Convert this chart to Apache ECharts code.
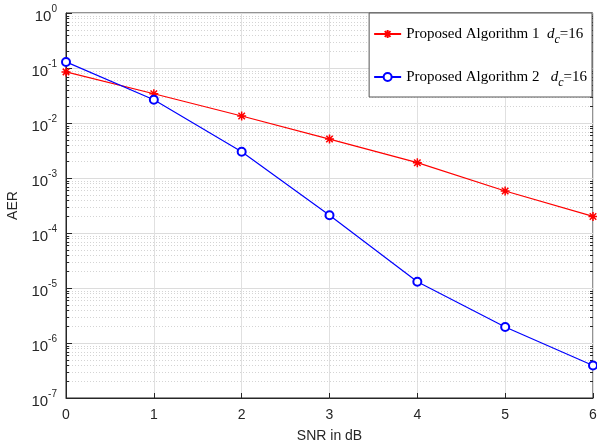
<!DOCTYPE html>
<html>
<head>
<meta charset="utf-8">
<script src="https://cdn.jsdelivr.net/npm/echarts@6/dist/echarts.min.js"></script>
<style>
html, body { margin: 0; padding: 0; background: #fff; }
#chart { width: 597px; height: 447px; }
</style>
</head>
<body>
<div id="chart"></div>
<script>
var snr = [0, 1, 2, 3, 4, 5, 6]; // SNR in dB
var aer_alg1 = [0.085, 0.034, 0.0134, 0.0051, 0.0019, 0.00058, 0.0002];
var aer_alg2 = [0.129, 0.0265, 0.003, 0.00021, 0.000013, 0.00000196, 0.00000039];
var series_names = ['Proposed Algorithm 1', 'Proposed Algorithm 2'];

var chart = echarts.init(document.getElementById('chart'));

function toPairs(xs, ys) {
    var out = [];
    for (var i = 0; i < xs.length; i++) {
        out.push([xs[i], ys[i]]);
    }
    return out;
}

// minor grid values, MATLAB style: 2..9 x 10^k
var minor_vals = [];
for (var k = -7; k < 0; k++) {
    for (var m = 2; m <= 9; m++) {
        minor_vals.push([0, m * Math.pow(10, k)]);
    }
}

var axisColor = '#262626';
var starPath = 'path://M0,-5L0,5M-5,0L5,0M-3.6,-3.6L3.6,3.6M-3.6,3.6L3.6,-3.6';

function renderMinor(params, api) {
    var cs = params.coordSys;
    var y = Math.round(api.coord([0, api.value(1)])[1]) + 0.5;
    var x0 = cs.x, x1 = cs.x + cs.width;
    return {
        type: 'group',
        silent: true,
        children: [
            { type: 'line', shape: { x1: x0, y1: y, x2: x1, y2: y },
              style: { stroke: '#d4d4d4', lineWidth: 1, lineDash: [1, 2] }, z2: 0 },
            { type: 'line', shape: { x1: x0, y1: y, x2: x0 + 3, y2: y },
              style: { stroke: axisColor, lineWidth: 1 }, z2: 1 },
            { type: 'line', shape: { x1: x1 - 3, y1: y, x2: x1, y2: y },
              style: { stroke: axisColor, lineWidth: 1 }, z2: 1 }
        ]
    };
}

var option = {
    backgroundColor: '#fff',
    animation: false,
    grid: {
        left: 66, right: 4, top: 13, bottom: 49,
        containLabel: false,
        outerBoundsMode: 'none',
        show: true, borderColor: axisColor, borderWidth: 1
    },
    legend: {
        orient: 'vertical',
        right: 5,
        top: 13,
        padding: [9, 5, 8, 4],
        itemGap: 19,
        itemWidth: 27,
        itemHeight: 10,
        backgroundColor: '#fff',
        borderColor: '#555',
        borderWidth: 1,
        data: series_names,
        formatter: function(name) {
            var gap = name === series_names[0] ? '  ' : '   ';
            return '{t|' + name + gap + '}{i|d}{s|c}{t|=16}';
        },
        textStyle: {
            rich: {
                t: { fontFamily: 'Liberation Serif', fontSize: 15, color: '#000', lineHeight: 22 },
                i: { fontFamily: 'Liberation Serif', fontStyle: 'italic', fontSize: 15, color: '#000', lineHeight: 22 },
                s: { fontFamily: 'Liberation Serif', fontStyle: 'italic', fontSize: 12, color: '#000', padding: [12, 0, 0, 0], lineHeight: 22 }
            }
        }
    },
    xAxis: {
        type: 'value',
        min: 0, max: 6, interval: 1,
        name: 'SNR in dB',
        nameLocation: 'middle',
        nameGap: 31,
        nameTextStyle: { fontFamily: 'Liberation Sans', fontSize: 14, color: axisColor },
        axisLine: { lineStyle: { color: axisColor } },
        axisTick: { inside: true, length: 5, lineStyle: { color: axisColor } },
        axisLabel: { fontFamily: 'Liberation Sans', fontSize: 14, color: axisColor, margin: 10 },
        splitLine: { show: true, lineStyle: { color: '#e0e0e0', width: 1 } }
    },
    yAxis: {
        type: 'log',
        logBase: 10,
        min: 1e-7, max: 1,
        name: 'AER',
        nameLocation: 'middle',
        nameGap: 45,
        nameTextStyle: { fontFamily: 'Liberation Sans', fontSize: 14, color: axisColor },
        axisLine: { show: true, lineStyle: { color: axisColor } },
        axisTick: { inside: true, length: 6, lineStyle: { color: axisColor } },
        splitLine: { show: true, lineStyle: { color: '#dcdcdc', width: 1 } },
        axisLabel: {
            margin: 9,
            formatter: function(v) {
                var e = Math.round(Math.log(v) / Math.LN10);
                return '{b|10}{e|' + e + '}';
            },
            rich: {
                b: { fontFamily: 'Liberation Sans', fontSize: 15, color: axisColor, padding: [8, 0, 0, 0] },
                e: { fontFamily: 'Liberation Sans', fontSize: 10, color: axisColor, padding: [0, 0, 8, 0] }
            }
        }
    },
    series: [
        {
            type: 'custom',
            renderItem: renderMinor,
            data: minor_vals,
            silent: true,
            z: 0,
            encode: { x: 0, y: 1 }
        },
        {
            name: series_names[0],
            type: 'line',
            data: toPairs(snr, aer_alg1),
            symbol: starPath,
            symbolSize: 9,
            z: 3,
            lineStyle: { color: '#ff0000', width: 1.2 },
            itemStyle: { color: 'none', borderColor: '#ff0000', borderWidth: 1.5 }
        },
        {
            name: series_names[1],
            type: 'line',
            data: toPairs(snr, aer_alg2),
            symbol: 'emptyCircle',
            symbolSize: 8,
            z: 3,
            lineStyle: { color: '#0000ff', width: 1.2 },
            itemStyle: { color: '#0000ff', borderColor: '#0000ff', borderWidth: 1.4 }
        }
    ]
};
chart.setOption(option);
</script>
</body>
</html>
